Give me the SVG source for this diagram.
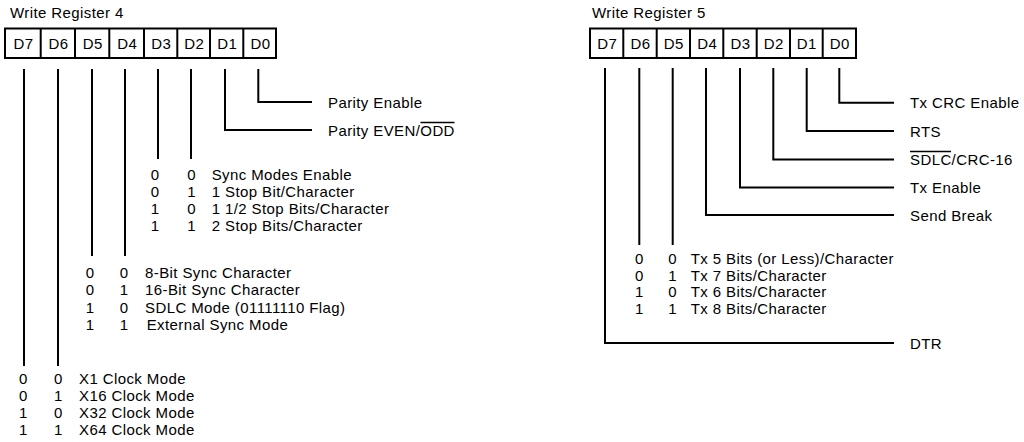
<svg xmlns="http://www.w3.org/2000/svg" width="1024" height="442" viewBox="0 0 1024 442">
<style>
text{font-family:"Liberation Sans",Arial,sans-serif;font-size:15px;letter-spacing:0.4px;fill:#000}
.m{text-anchor:middle}
.box{fill:#fff;stroke:#000;stroke-width:2}
.ln{fill:none;stroke:#000;stroke-width:2}
.ov{stroke:#000;stroke-width:1.5}
</style>
<rect width="1024" height="442" fill="#fff"/>
<g id="wr4">
<text x="10" y="18">Write Register 4</text>
<rect class="box" x="5" y="28.5" width="271" height="29.5"/>
<path class="ln" d="M40.7 28.5V58M75 28.5V58M109.3 28.5V58M144 28.5V58M177.3 28.5V58M210 28.5V58M243.3 28.5V58"/>
<text class="m" x="23.5" y="48.5">D7</text>
<text class="m" x="58.5" y="48.5">D6</text>
<text class="m" x="92.7" y="48.5">D5</text>
<text class="m" x="127.2" y="48.5">D4</text>
<text class="m" x="161.2" y="48.5">D3</text>
<text class="m" x="194.2" y="48.5">D2</text>
<text class="m" x="227.2" y="48.5">D1</text>
<text class="m" x="260.5" y="48.5">D0</text>
</g>
<g id="wr5">
<text x="592" y="18">Write Register 5</text>
<rect class="box" x="590" y="28.5" width="266" height="29.5"/>
<path class="ln" d="M623.3 28.5V58M656.7 28.5V58M690 28.5V58M723.3 28.5V58M756.7 28.5V58M790 28.5V58M822.7 28.5V58"/>
<text class="m" x="607.2" y="48.5">D7</text>
<text class="m" x="640.5" y="48.5">D6</text>
<text class="m" x="673.8" y="48.5">D5</text>
<text class="m" x="707.2" y="48.5">D4</text>
<text class="m" x="740.5" y="48.5">D3</text>
<text class="m" x="773.8" y="48.5">D2</text>
<text class="m" x="806.8" y="48.5">D1</text>
<text class="m" x="839.8" y="48.5">D0</text>
</g>
<g id="connectors">
<path class="ln" d="M258.3 69V102H312"/>
<path class="ln" d="M225 69V130H312"/>
<path class="ln" d="M158 69V159M191 69V159"/>
<path class="ln" d="M92 69V256M125 69V256"/>
<path class="ln" d="M24 69V366M58 69V366"/>
<path class="ln" d="M839.3 68V102.7H894"/>
<path class="ln" d="M806.7 68V131H894"/>
<path class="ln" d="M773.3 68V159.5H894"/>
<path class="ln" d="M740 68V187.5H894"/>
<path class="ln" d="M706 68V215H894"/>
<path class="ln" d="M639.3 68V245M672.7 68V245"/>
<path class="ln" d="M605 68V343H894"/>
</g>
<g id="wr4-parity">
<text x="328" y="108">Parity Enable</text>
<text x="328" y="136">Parity EVEN/ODD</text>
<line class="ov" x1="420.5" y1="122.5" x2="454.5" y2="122.5"/>
</g>
<g id="wr4-stop">
<text class="m" x="155" y="179.5">0</text><text class="m" x="191.7" y="179.5">0</text><text x="211.7" y="179.5">Sync Modes Enable</text>
<text class="m" x="155" y="196.5">0</text><text class="m" x="191.7" y="196.5">1</text><text x="211.7" y="196.5">1 Stop Bit/Character</text>
<text class="m" x="155" y="213.5">1</text><text class="m" x="191.7" y="213.5">0</text><text x="211.7" y="213.5">1 1/2 Stop Bits/Character</text>
<text class="m" x="155" y="230.5">1</text><text class="m" x="191.7" y="230.5">1</text><text x="211.7" y="230.5">2 Stop Bits/Character</text>
</g>
<g id="wr4-sync">
<text class="m" x="90" y="277.5">0</text><text class="m" x="124" y="277.5">0</text><text x="145" y="277.5">8-Bit Sync Character</text>
<text class="m" x="90" y="295">0</text><text class="m" x="124" y="295">1</text><text x="145" y="295">16-Bit Sync Character</text>
<text class="m" x="90" y="312.5">1</text><text class="m" x="124" y="312.5">0</text><text x="145" y="312.5">SDLC Mode (01111110 Flag)</text>
<text class="m" x="90" y="330">1</text><text class="m" x="124" y="330">1</text><text x="146.7" y="330">External Sync Mode</text>
</g>
<g id="wr4-clock">
<text class="m" x="23.3" y="384">0</text><text class="m" x="58.3" y="384">0</text><text x="79" y="384">X1 Clock Mode</text>
<text class="m" x="23.3" y="401">0</text><text class="m" x="58.3" y="401">1</text><text x="79" y="401">X16 Clock Mode</text>
<text class="m" x="23.3" y="418">1</text><text class="m" x="58.3" y="418">0</text><text x="79" y="418">X32 Clock Mode</text>
<text class="m" x="23.3" y="435">1</text><text class="m" x="58.3" y="435">1</text><text x="79" y="435">X64 Clock Mode</text>
</g>
<g id="wr5-labels">
<text x="910" y="108">Tx CRC Enable</text>
<text x="910" y="136.5">RTS</text>
<text x="910" y="165">SDLC/CRC-16</text>
<line class="ov" x1="910" y1="151.5" x2="951" y2="151.5"/>
<text x="910" y="193">Tx Enable</text>
<text x="910" y="220.5">Send Break</text>
<text x="910" y="348.5">DTR</text>
</g>
<g id="wr5-bits">
<text class="m" x="639.3" y="264">0</text><text class="m" x="672.7" y="264">0</text><text x="690.7" y="264">Tx 5 Bits (or Less)/Character</text>
<text class="m" x="639.3" y="280.5">0</text><text class="m" x="672.7" y="280.5">1</text><text x="690.7" y="280.5">Tx 7 Bits/Character</text>
<text class="m" x="639.3" y="297">1</text><text class="m" x="672.7" y="297">0</text><text x="690.7" y="297">Tx 6 Bits/Character</text>
<text class="m" x="639.3" y="313.5">1</text><text class="m" x="672.7" y="313.5">1</text><text x="690.7" y="313.5">Tx 8 Bits/Character</text>
</g>
</svg>
